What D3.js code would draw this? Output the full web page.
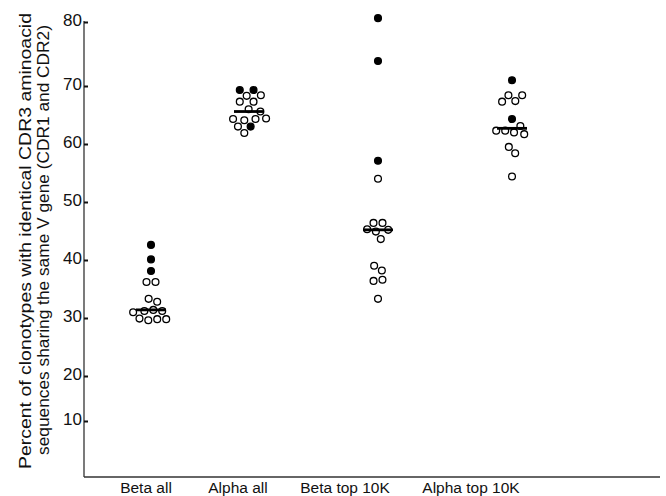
<!DOCTYPE html>
<html>
<head>
<meta charset="utf-8">
<script src="https://cdn.jsdelivr.net/npm/d3@7"></script>
<style>
  body { margin: 0; background: #fff; }
  svg { display: block; font-family: "Liberation Sans", Arial, sans-serif; }
</style>
</head>
<body>
<svg id="chart" width="666" height="496"></svg>
<script>
// data
var categories = ["Beta all", "Alpha all", "Beta top 10K", "Alpha top 10K"];
var yTicks = [10, 20, 30, 40, 50, 60, 70, 80];
var titleLines = [
  "Percent of clonotypes with identical CDR3 aminoacid",
  "sequences sharing the same V gene (CDR1 and CDR2)",
];

var betaAllFilled = [42.6, 40.1, 38.1];
var betaAllOpen = [36.2, 36.2, 32.8, 33.3, 31.2, 31.4, 31.2, 31.0, 29.8, 29.9, 29.8, 29.6];
var alphaAllFilled = [69.3, 69.3, 63.0];
var alphaAllOpen = [68.3, 68.4, 67.3, 67.3, 66.0, 65.6, 64.1, 64.4, 64.3, 64.3, 63.0, 61.9];
var betaTopFilled = [80.6, 73.9, 57.1];
var betaTopOpen = [54.0, 46.4, 46.4, 44.9, 45.2, 45.3, 43.6, 39.0, 38.2, 36.4, 36.6, 33.3];
var alphaTopFilled = [70.9, 64.3];
var alphaTopOpen = [68.4, 67.4, 68.4, 67.3, 63.1, 62.3, 61.7, 62.3, 62.0, 59.5, 58.4, 54.4];

var groups = [
  { cat: "Beta all", filled: betaAllFilled, open: betaAllOpen },
  { cat: "Alpha all", filled: alphaAllFilled, open: alphaAllOpen },
  { cat: "Beta top 10K", filled: betaTopFilled, open: betaTopOpen },
  { cat: "Alpha top 10K", filled: alphaTopFilled, open: alphaTopOpen },
];

var svg = d3.select("#chart");

var dims = { left: 84, bottom: 477, right: 660 };
var r = 3.4;

// the printed axis is not evenly spaced, so a piecewise scale follows it
var yScale = d3.scaleLinear()
  .domain([10, 20, 30, 40, 50, 60, 70, 80])
  .range([421, 376, 318, 260, 202, 144, 86, 22]);

var xScale = d3.scaleOrdinal().domain(categories).range([151, 249, 378, 512]); // dot columns
var labelScale = d3.scaleOrdinal().domain(categories).range([146, 238, 345, 471]); // category labels

// axes
svg.append("line")
  .attr("x1", dims.left).attr("x2", dims.left)
  .attr("y1", yScale(80) - 1).attr("y2", dims.bottom)
  .attr("stroke", "#333").attr("stroke-width", 1.3);
svg.append("line")
  .attr("x1", dims.left).attr("x2", dims.right)
  .attr("y1", dims.bottom).attr("y2", dims.bottom)
  .attr("stroke", "#333").attr("stroke-width", 1.3);

var yAxis = d3.axisLeft(yScale).tickValues(yTicks).tickSize(-4).tickPadding(2);
var gy = svg.append("g").attr("transform", "translate(" + dims.left + ",0)").call(yAxis);
gy.select(".domain").remove();
gy.selectAll(".tick line").attr("stroke", "#111").attr("stroke-width", 2);
gy.selectAll(".tick text")
  .attr("dy", "0.2em")
  .attr("font-size", 17)
  .attr("font-family", "Liberation Sans, Arial, sans-serif")
  .attr("fill", "#111");

svg.append("g")
  .selectAll("text")
  .data(categories)
  .enter()
  .append("text")
  .attr("x", (d) => labelScale(d))
  .attr("y", 493)
  .attr("text-anchor", "middle")
  .attr("font-size", 15.5)
  .attr("fill", "#111")
  .text((d) => d);

// y title, two lines, stretched like the original print
svg.append("g")
  .selectAll("text")
  .data(titleLines)
  .enter()
  .append("text")
  .attr("transform", (d, i) => "translate(" + (31 + i * 17.5) + "," + (241 - i) + ") rotate(-90)")
  .attr("text-anchor", "middle")
  .attr("font-size", 17)
  .attr("fill", "#111")
  .attr("textLength", (d, i) => (i === 0 ? 456 : 430))
  .attr("lengthAdjust", "spacingAndGlyphs")
  .text((d) => d);

// build nodes and spread them like a dot plot
var nodes = [];
groups.forEach((g) => {
  g.filled.forEach((v) => nodes.push({ cat: g.cat, value: v, filled: true }));
  g.open.forEach((v) => nodes.push({ cat: g.cat, value: v, filled: false }));
});
nodes.forEach((d, i) => {
  d.fy = yScale(d.value);
  d.x = xScale(d.cat) + ((i % 2) * 2 - 1) * (i % 3);
});

var sim = d3.forceSimulation(nodes)
  .force("x", d3.forceX((d) => xScale(d.cat)).strength(0.15))
  .force("collide", d3.forceCollide(r + 1.1))
  .stop();
for (var i = 0; i < 300; i++) sim.tick();

svg.append("g")
  .selectAll("circle")
  .data(nodes)
  .enter()
  .append("circle")
  .attr("cx", (d) => d.x)
  .attr("cy", (d) => d.fy)
  .attr("r", r)
  .attr("fill", (d) => (d.filled ? "#000" : "#fff"))
  .attr("stroke", "#000")
  .attr("stroke-width", 1.3);

// median bars
svg.append("g")
  .selectAll("line")
  .data(groups)
  .enter()
  .append("line")
  .attr("x1", (d) => xScale(d.cat) - 15)
  .attr("x2", (d) => xScale(d.cat) + 15)
  .attr("y1", (d) => yScale(d3.median(d.filled.concat(d.open))))
  .attr("y2", (d) => yScale(d3.median(d.filled.concat(d.open))))
  .attr("stroke", "#000")
  .attr("stroke-width", 2.8);
</script>
</body>
</html>
